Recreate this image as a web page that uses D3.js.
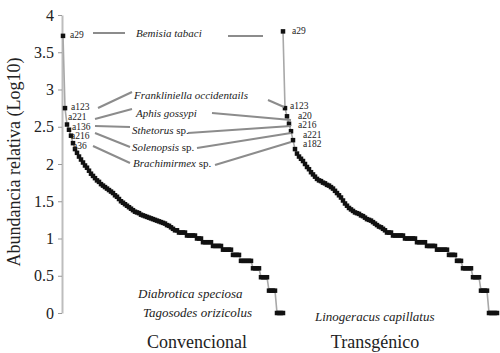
<!DOCTYPE html>
<html lang="es">
<head>
<meta charset="UTF-8" />
<title>Abundancia relativa</title>
<script src="https://d3js.org/d3.v7.min.js"></script>
<style>
  body { margin: 0; background: #fff; }
  svg text { font-family: "Liberation Serif", "Times New Roman", serif; }
  .axis path.domain { stroke: #bdbdbd; stroke-width: 2; }
  .axis .tick line { stroke: #999; }
  .axis .tick text { font-size: 16px; fill: #222; }
  .code { font-size: 9.5px; fill: #222; }
  .sp { font-size: 11px; fill: #222; font-style: italic; }
  .link { stroke: #8c8c8c; stroke-width: 2; fill: none; }
</style>
</head>
<body>
<script>
// log10 abundance by rank
var conv = [3.72, 2.75, 2.53, 2.46, 2.38, 2.28, 2.20, 2.15, 2.10, 2.06,
  2.02, 1.98, 1.95, 1.91, 1.87, 1.84, 1.81, 1.78, 1.76, 1.73,
  1.71, 1.69, 1.67, 1.65, 1.63, 1.61, 1.58, 1.56, 1.53, 1.50,
  1.48, 1.46, 1.44, 1.42, 1.40, 1.38, 1.36, 1.35, 1.34, 1.32,
  1.31, 1.30, 1.29, 1.28, 1.27, 1.26, 1.25, 1.24, 1.23, 1.22,
  1.21, 1.20, 1.18, 1.17, 1.15, 1.13, 1.11, 1.11, 1.08, 1.08,
  1.08, 1.08, 1.04, 1.04, 1.04, 1.04, 1.04, 1.00, 1.00, 1.00,
  0.95, 0.95, 0.95, 0.95, 0.95, 0.90, 0.90, 0.90, 0.90, 0.90,
  0.85, 0.85, 0.85, 0.85, 0.85, 0.78, 0.78, 0.78, 0.78, 0.70,
  0.70, 0.70, 0.70, 0.70, 0.70, 0.60, 0.60, 0.60, 0.60, 0.48,
  0.48, 0.48, 0.48, 0.30, 0.30, 0.30, 0.30, 0, 0, 0, 0];

var trans = [3.78, 2.75, 2.64, 2.54, 2.44, 2.32, 2.20, 2.14, 2.10, 2.07,
  2.04, 2.00, 1.96, 1.93, 1.89, 1.86, 1.83, 1.80, 1.78, 1.77,
  1.75, 1.74, 1.72, 1.71, 1.69, 1.67, 1.64, 1.61, 1.58, 1.55,
  1.51, 1.47, 1.44, 1.41, 1.39, 1.37, 1.35, 1.34, 1.33, 1.31,
  1.30, 1.28, 1.26, 1.25, 1.24, 1.22, 1.20, 1.18, 1.16, 1.15,
  1.13, 1.11, 1.08, 1.08, 1.08, 1.04, 1.04, 1.04, 1.04, 1.04,
  1.04, 1.00, 1.00, 1.00, 1.00, 1.00, 1.00, 0.95, 0.95, 0.95,
  0.95, 0.95, 0.90, 0.90, 0.90, 0.90, 0.90, 0.85, 0.85, 0.85,
  0.85, 0.85, 0.85, 0.78, 0.78, 0.78, 0.78, 0.70, 0.70, 0.70,
  0.60, 0.60, 0.60, 0.60, 0.60, 0.48, 0.48, 0.48, 0.48, 0.30,
  0.30, 0.30, 0.30, 0, 0, 0, 0, 0];

var yTicks = [0, 0.5, 1, 1.5, 2, 2.5, 3, 3.5, 4];
var treatments = ["Convencional", "Transgénico"];

// species names and the codes they point to in each treatment
var species = ["Bemisia tabaci", "Frankliniella occidentails", "Aphis gossypi",
  "Sthetorus", "Solenopsis", "Brachimirmex"];
var spSuffix = ["", "", "", " sp.", " sp.", " sp."];
var convCodes = ["a29", "a123", "a221", "a136", "a216", "a36"];
var transCodes = ["a29", "a123", "a20", "a216", "a221", "a182"];
var convRare = ["Diabrotica speciosa", "Tagosodes orizicolus"];
var transRare = ["Linogeracus capillatus"];

var W = 500, H = 353;
var svg = d3.select("body").append("svg").attr("width", W).attr("height", H);

var y = d3.scaleLinear().domain([0, 4]).range([313, 15]);
var xC = d3.scaleLinear().domain([0, conv.length - 1]).range([63, 283]);
var xT = d3.scaleLinear().domain([0, trans.length - 1]).range([283, 497]);

svg.append("g")
  .attr("class", "axis")
  .attr("transform", "translate(62,0)")
  .call(d3.axisLeft(y).tickValues(yTicks).tickSize(4).tickSizeOuter(0).tickPadding(4)
    .tickFormat(function(d) { return String(d); }))
  .attr("font-family", null);

svg.append("text")
  .attr("transform", "translate(20,162) rotate(-90)")
  .attr("text-anchor", "middle")
  .style("font-size", "18px")
  .attr("fill", "#222")
  .text("Abundancia relativa (Log10)");

function curve(vals, x) {
  var g = svg.append("g");
  g.append("path")
    .datum(vals)
    .attr("fill", "none")
    .attr("stroke", "#a8a8a8")
    .attr("stroke-width", 1.6)
    .attr("d", d3.line().x(function(d, i) { return x(i); }).y(function(d) { return y(d); }));
  g.selectAll("rect")
    .data(vals)
    .enter().append("rect")
    .attr("x", function(d, i) { return x(i) - 2.25; })
    .attr("y", function(d) { return y(d) - 2.25; })
    .attr("width", 4.5)
    .attr("height", 4.5)
    .attr("fill", "#111");
}
curve(conv, xC);
curve(trans, xT);

// annotation layout
var convCodePos = [[70, 35], [71, 107], [68, 117], [72, 126.5], [71, 136], [73, 145.5]];
var transCodePos = [[292, 31], [290, 106], [298, 115.5], [298, 125], [303, 134.5], [303, 144]];
var spPos = [[136, 33], [134, 95], [136, 113], [132, 130], [132, 147], [133, 163]];
var leftLinks = [[93, 33, 125, 33], [98, 108, 132, 92], [95, 119, 132, 109],
  [95, 126, 130, 127], [95, 133, 130, 147], [93, 146, 130, 163]];
var rightLinks = [[228, 36, 263, 36], [268, 100, 284, 107], [212, 113, 291, 120],
  [188, 133, 291, 126], [197, 148, 291, 133], [215, 165, 291, 142]];

svg.selectAll(".link")
  .data(leftLinks.concat(rightLinks))
  .enter().append("line")
  .attr("class", "link")
  .attr("x1", function(d) { return d[0]; })
  .attr("y1", function(d) { return d[1]; })
  .attr("x2", function(d) { return d[2]; })
  .attr("y2", function(d) { return d[3]; });

function codes(list, pos) {
  svg.append("g").selectAll("text")
    .data(list)
    .enter().append("text")
    .attr("class", "code")
    .attr("x", function(d, i) { return pos[i][0]; })
    .attr("y", function(d, i) { return pos[i][1]; })
    .attr("dy", "0.35em")
    .text(function(d) { return d; });
}
codes(convCodes, convCodePos);
codes(transCodes, transCodePos);

var spText = svg.append("g").selectAll("text")
  .data(species)
  .enter().append("text")
  .attr("class", "sp")
  .attr("x", function(d, i) { return spPos[i][0]; })
  .attr("y", function(d, i) { return spPos[i][1]; })
  .attr("dy", "0.35em");
spText.append("tspan").text(function(d) { return d; });
spText.append("tspan").style("font-style", "normal").text(function(d, i) { return spSuffix[i]; });

var rare = [[convRare[0], 138, 293], [convRare[1], 143, 312], [transRare[0], 315, 316]];
svg.append("g").selectAll("text")
  .data(rare)
  .enter().append("text")
  .attr("x", function(d) { return d[1]; })
  .attr("y", function(d) { return d[2]; })
  .attr("dy", "0.35em")
  .style("font-size", "13px")
  .style("font-style", "italic")
  .attr("fill", "#222")
  .text(function(d) { return d[0]; });

svg.append("g").selectAll("text")
  .data(treatments)
  .enter().append("text")
  .attr("x", function(d, i) { return [197, 375][i]; })
  .attr("y", 348)
  .attr("text-anchor", "middle")
  .style("font-size", "18px")
  .attr("fill", "#222")
  .text(function(d) { return d; });
</script>
</body>
</html>
